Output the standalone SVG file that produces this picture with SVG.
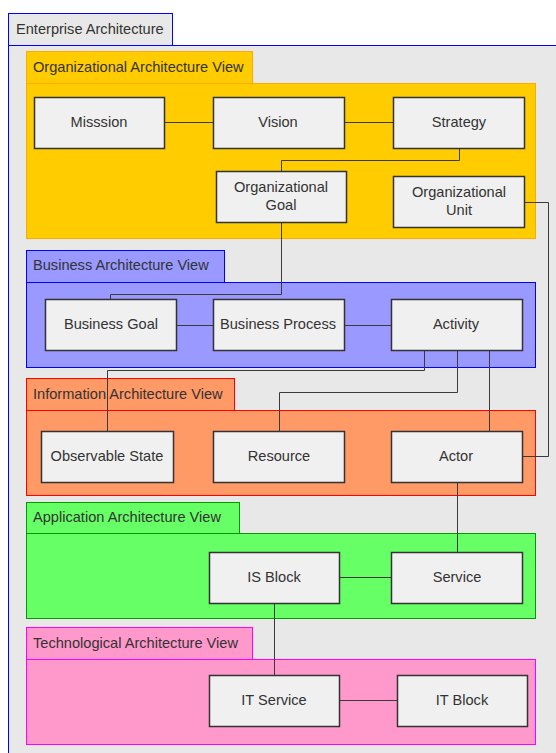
<svg xmlns="http://www.w3.org/2000/svg" width="556" height="753" viewBox="0 0 556 753">
<style>
text{font-family:"Liberation Sans",Arial,sans-serif;font-size:14.6px;fill:#333}
.t{text-anchor:middle}
.n rect{fill:#f0f0f0;stroke:#333;stroke-width:1.5}
.c path{fill:none;stroke:#3a3a3a;stroke-width:1}
</style>
<g id="enterprise">
<rect x="8.5" y="45.5" width="560" height="720" fill="#e8e8e8" stroke="#0000ff"/>
<rect x="8.5" y="13.5" width="164" height="32" fill="#e8e8e8" stroke="#0000ff"/>
<text x="16" y="34">Enterprise Architecture</text>
</g>
<g id="orgView">
<rect x="26.5" y="83.5" width="509" height="155" fill="#ffcc00" stroke="#ffaa00"/>
<rect x="26.5" y="51.5" width="226" height="32" fill="#ffcc00" stroke="#ffaa00"/>
<text x="33" y="72">Organizational Architecture View</text>
</g>
<g id="busView">
<rect x="26.5" y="282.5" width="509" height="85" fill="#9999ff" stroke="#0000ff"/>
<rect x="26.5" y="250.5" width="198" height="32" fill="#9999ff" stroke="#0000ff"/>
<text x="33" y="270">Business Architecture View</text>
</g>
<g id="infoView">
<rect x="26.5" y="410.5" width="509" height="85" fill="#ff9966" stroke="#ff0000"/>
<rect x="26.5" y="378.5" width="208" height="32" fill="#ff9966" stroke="#ff0000"/>
<text x="33" y="399">Information Architecture View</text>
</g>
<g id="appView">
<rect x="26.5" y="533.5" width="509" height="85" fill="#66ff66" stroke="#009900"/>
<rect x="26.5" y="502.5" width="213" height="31" fill="#66ff66" stroke="#009900"/>
<text x="33" y="522">Application Architecture View</text>
</g>
<g id="techView">
<rect x="26.5" y="659.5" width="509" height="85" fill="#ff99cc" stroke="#ff00ff"/>
<rect x="26.5" y="627.5" width="226" height="32" fill="#ff99cc" stroke="#ff00ff"/>
<text x="33" y="648">Technological Architecture View</text>
</g>
<g id="connectors" class="c">
<path d="M164 122.5H213"/>
<path d="M344 122.5H393"/>
<path d="M459.5 148V160.5H281.5V171"/>
<path d="M524 202.5H548.5V456.5H522"/>
<path d="M281.5 222V294.5H110.5V299"/>
<path d="M176 325.5H213"/>
<path d="M344 325.5H391"/>
<path d="M424.5 351V370.5H107.5V431"/>
<path d="M457.5 351V392.5H279.5V431"/>
<path d="M489.5 351V431"/>
<path d="M457.5 482V552"/>
<path d="M339 577.5H391"/>
<path d="M274.5 603V675"/>
<path d="M339 700.5H397"/>
</g>
<g id="mission" class="n"><rect x="34.5" y="97.5" width="130" height="51"/><text class="t" x="99" y="127">Misssion</text></g>
<g id="vision" class="n"><rect x="213.5" y="97.5" width="131" height="51"/><text class="t" x="278" y="127">Vision</text></g>
<g id="strategy" class="n"><rect x="393.5" y="97.5" width="131" height="51"/><text class="t" x="459" y="127">Strategy</text></g>
<g id="orgGoal" class="n"><rect x="216.5" y="171.5" width="130" height="51"/><text class="t" x="281" y="192">Organizational</text><text class="t" x="281" y="210">Goal</text></g>
<g id="orgUnit" class="n"><rect x="393.5" y="176.5" width="131" height="51"/><text class="t" x="459" y="197">Organizational</text><text class="t" x="459" y="215">Unit</text></g>
<g id="busGoal" class="n"><rect x="45.5" y="299.5" width="131" height="51"/><text class="t" x="111" y="329">Business Goal</text></g>
<g id="busProcess" class="n"><rect x="213.5" y="299.5" width="131" height="51"/><text class="t" x="278" y="329">Business Process</text></g>
<g id="activity" class="n"><rect x="391.5" y="299.5" width="131" height="51"/><text class="t" x="456" y="329">Activity</text></g>
<g id="obsState" class="n"><rect x="41.5" y="431.5" width="132" height="51"/><text class="t" x="107" y="461">Observable State</text></g>
<g id="resource" class="n"><rect x="213.5" y="431.5" width="131" height="51"/><text class="t" x="279" y="461">Resource</text></g>
<g id="actor" class="n"><rect x="391.5" y="431.5" width="131" height="51"/><text class="t" x="456" y="461">Actor</text></g>
<g id="isBlock" class="n"><rect x="209.5" y="552.5" width="130" height="51"/><text class="t" x="274" y="582">IS Block</text></g>
<g id="service" class="n"><rect x="391.5" y="552.5" width="131" height="51"/><text class="t" x="457" y="582">Service</text></g>
<g id="itService" class="n"><rect x="209.5" y="675.5" width="130" height="51"/><text class="t" x="274" y="705">IT Service</text></g>
<g id="itBlock" class="n"><rect x="397.5" y="675.5" width="130" height="51"/><text class="t" x="462" y="705">IT Block</text></g>
</svg>
